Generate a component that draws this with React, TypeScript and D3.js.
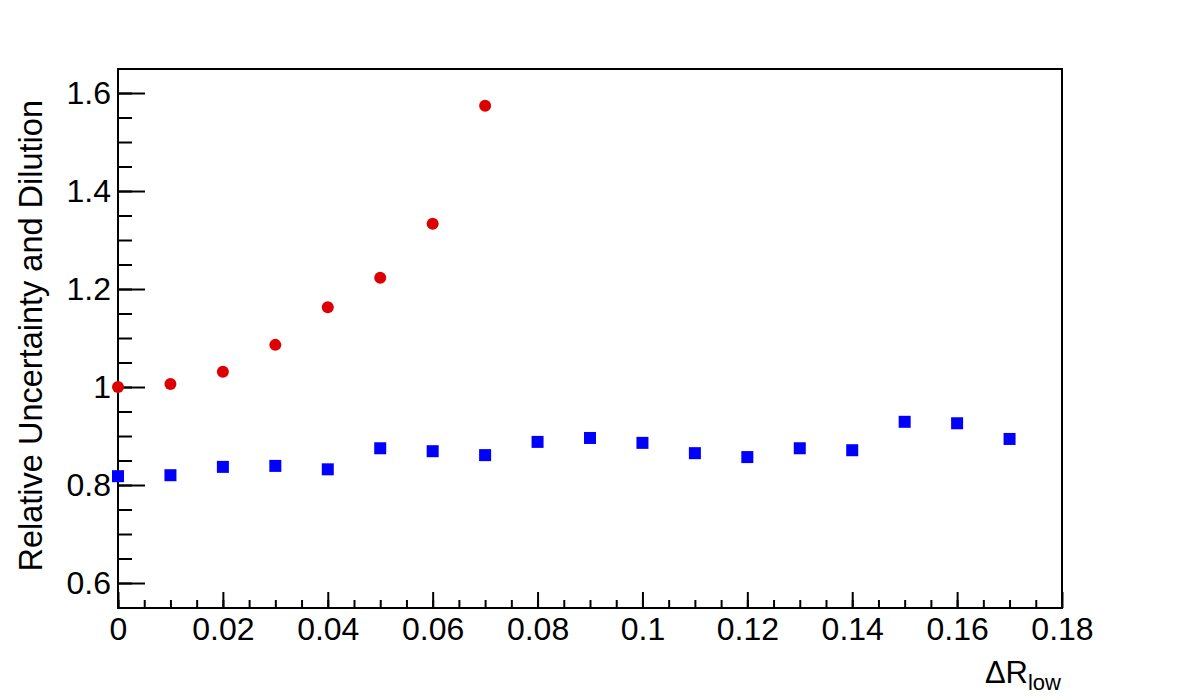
import { useRef, useEffect } from "react";
import * as d3 from "d3";

// x positions (Delta R_low) and the two series
const redX = [0, 0.01, 0.02, 0.03, 0.04, 0.05, 0.06, 0.07];
const redY = [1.0, 1.006, 1.031, 1.086, 1.163, 1.223, 1.333, 1.574];

const blueX = [0, 0.01, 0.02, 0.03, 0.04, 0.05, 0.06, 0.07, 0.08, 0.09, 0.1, 0.11, 0.12, 0.13, 0.14, 0.15, 0.16, 0.17];
const blueY = [0.818, 0.82, 0.837, 0.839, 0.832, 0.875, 0.869, 0.861, 0.888, 0.896, 0.886, 0.865, 0.857, 0.875, 0.871, 0.929, 0.926, 0.894];

const xMajor = [0, 0.02, 0.04, 0.06, 0.08, 0.1, 0.12, 0.14, 0.16, 0.18];
const xLabels = ["0", "0.02", "0.04", "0.06", "0.08", "0.1", "0.12", "0.14", "0.16", "0.18"];
const yMajor = [0.6, 0.8, 1.0, 1.2, 1.4, 1.6];
const yLabels = ["0.6", "0.8", "1", "1.2", "1.4", "1.6"];

const FONT = "'Liberation Sans', Arial, Helvetica, sans-serif";

function App() {
  const ref = useRef<SVGSVGElement>(null);

  useEffect(() => {
    const svg = d3.select(ref.current);
    svg.selectAll("*").remove();

    const margin = { top: 69, right: 119, bottom: 92, left: 118 };
    const width = 1181 - margin.left - margin.right;
    const height = 700 - margin.top - margin.bottom;

    const x = d3.scaleLinear().domain([0, 0.18]).range([0, width]);
    const y = d3.scaleLinear().domain([0.549, 1.649]).range([height, 0]);

    const g = svg.append("g")
      .attr("transform", "translate(" + margin.left + "," + margin.top + ")");

    // frame
    g.append("rect")
      .attr("width", width)
      .attr("height", height)
      .attr("fill", "none")
      .attr("stroke", "black")
      .attr("stroke-width", 2);

    // minor ticks
    const xMinor = d3.range(0, 36).map(i => i * 0.005);
    const yMinor = d3.range(0, 22).map(i => 0.55 + i * 0.05);

    g.append("g")
      .attr("transform", "translate(0," + height + ")")
      .call(d3.axisBottom(x).tickValues(xMinor).tickSize(-8).tickFormat(() => ""));
    g.append("g")
      .call(d3.axisLeft(y).tickValues(yMinor).tickSize(-14).tickFormat(() => ""));

    // major ticks with labels
    const xAxis = g.append("g")
      .attr("transform", "translate(0," + height + ")")
      .call(d3.axisBottom(x).tickValues(xMajor).tickSize(-16).tickPadding(9)
        .tickFormat((d, i) => xLabels[i]));
    const yAxis = g.append("g")
      .call(d3.axisLeft(y).tickValues(yMajor).tickSize(-27).tickPadding(7)
        .tickFormat((d, i) => yLabels[i]));

    [xAxis, yAxis].forEach(ax => {
      ax.selectAll("text")
        .attr("fill", "black")
        .style("font-family", FONT)
        .style("font-size", "32px");
    });
    xAxis.selectAll("text").attr("dy", "0.71em");
    g.selectAll(".tick line").attr("stroke", "black").attr("stroke-width", 2);
    g.selectAll(".domain").remove();

    // blue squares
    const sq = 12;
    g.selectAll(".sq")
      .data(blueX)
      .enter().append("rect")
      .attr("class", "sq")
      .attr("x", (d) => x(d) - sq / 2)
      .attr("y", (d, i) => y(blueY[i]) - sq / 2)
      .attr("width", sq)
      .attr("height", sq)
      .attr("fill", "#0000ff");

    // red circles
    g.selectAll(".dot")
      .data(redX)
      .enter().append("circle")
      .attr("class", "dot")
      .attr("cx", (d) => x(d))
      .attr("cy", (d, i) => y(redY[i]))
      .attr("r", 6)
      .attr("fill", "#dd0000");

    // y title
    svg.append("text")
      .attr("transform", "translate(42,100) rotate(-90)")
      .attr("text-anchor", "end")
      .style("font-family", FONT)
      .style("font-size", "32.5px")
      .attr("fill", "black")
      .text("Relative Uncertainty and Dilution");

    // x title
    const xt = svg.append("text")
      .attr("x", 1061)
      .attr("y", 683)
      .attr("text-anchor", "end")
      .style("font-family", FONT)
      .style("font-size", "31px")
      .attr("fill", "black");
    xt.append("tspan").text("\u0394R");
    xt.append("tspan")
      .attr("dy", 7)
      .style("font-size", "22px")
      .text("low");
  }, []);

  return (
    <svg
      ref={ref}
      width="1181"
      height="700"
      style={{ position: "absolute", left: 0, top: 0, background: "white" }}
    />
  );
}

export default App;
